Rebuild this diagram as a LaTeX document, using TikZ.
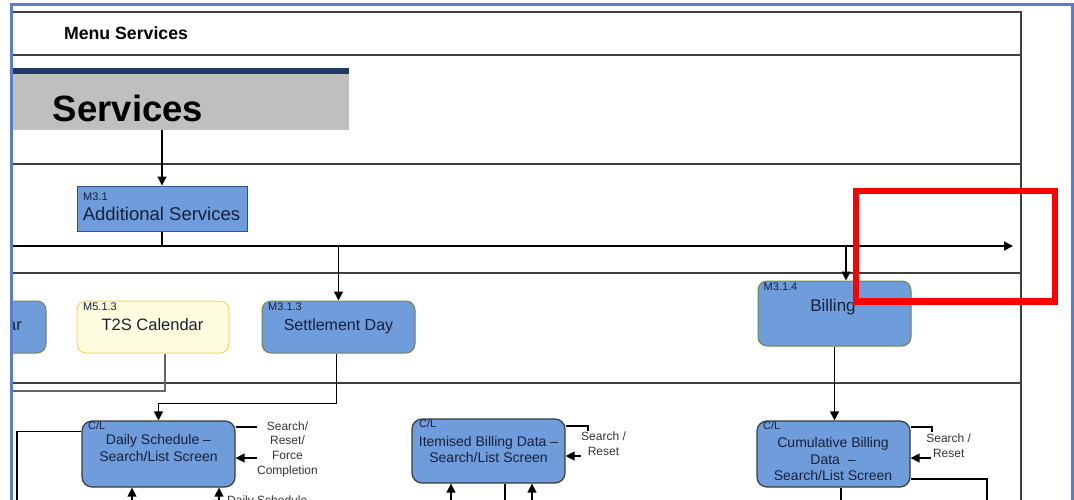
\documentclass[tikz,border=0pt]{standalone}
\usepackage{fontspec}
\setmainfont{Liberation Sans}
\usetikzlibrary{arrows.meta}
\definecolor{frameblue}{HTML}{5B7CC9}
\definecolor{tablegray}{HTML}{3F3F3F}
\definecolor{blockblue}{HTML}{6F9CDB}
\definecolor{blockedge}{HTML}{2F4F8F}
\definecolor{greenedge}{HTML}{6E8A3E}
\definecolor{screenedge}{HTML}{3A3A3A}
\definecolor{calfill}{HTML}{FFFDE0}
\definecolor{caledge}{HTML}{F3D651}
\definecolor{bannergray}{HTML}{BFBFBF}
\definecolor{bannernavy}{HTML}{1F3A62}
\definecolor{labeltext}{HTML}{18213A}
\definecolor{sidegray}{HTML}{333333}
\definecolor{markred}{HTML}{FF0000}
\tikzset{
  tableline/.style={draw=tablegray, line width=1.1},
  flow/.style={-{Triangle[length=9,width=9]}, line width=1.3},
  plainlink/.style={line width=1.2},
  menubox/.style={draw=blockedge, fill=blockblue, line width=1, inner sep=0},
  funcbox/.style={draw=greenedge, fill=blockblue, rounded corners=9, line width=1, inner sep=0},
  calbox/.style={draw=caledge, fill=calfill, rounded corners=9, line width=1, inner sep=0},
  screenbox/.style={draw=screenedge, fill=blockblue, rounded corners=10, line width=1.2, inner sep=0},
  boxtitle/.style={text=labeltext, inner sep=0, anchor=base},
  screentitle/.style={text=labeltext, inner sep=0, align=center, font=\fontsize{14}{16.5}\selectfont},
  idtag/.style={text=labeltext, inner sep=0, anchor=north west, font=\fontsize{11}{12}\selectfont},
  sidenote/.style={text=sidegray, inner sep=0, align=center, font=\fontsize{12}{14.7}\selectfont},
}
\begin{document}
\begin{tikzpicture}[x=1pt,y=-1pt]
    \useasboundingbox (0,0) rectangle (1074,499);
    \clip (0,0) rectangle (1074,499);
    % table rows
    \draw[tableline] (12,12) -- (1021,12) -- (1021,520);
    \foreach \ry in {55,164,273,383}
        \draw[tableline] (12,\ry) -- (1021,\ry);
    \node[font=\bfseries\fontsize{17.7}{20}\selectfont, inner sep=0, anchor=base] (menutitle) at (126,39) {Menu Services};
    % banner
    \node[fill=bannergray, minimum width=337, minimum height=56, inner sep=0] (svcbanner) at (180.5,102) {};
    \fill[bannernavy] (12,68) rectangle (349,74);
    \node[font=\bfseries\fontsize{36.5}{40}\selectfont, inner sep=0, anchor=base] (svctitle) at (128,121) {Services};
    % M3.1
    \node[menubox, minimum width=170, minimum height=45] (addsvc) at (162,208.5) {};
    \node[idtag] (addsvcid) at (83,192.5) {M3.1};
    \node[boxtitle, font=\fontsize{18.5}{20}\selectfont] (addsvctxt) at (161.5,220.7) {Additional Services};
    \draw[flow] (addsvc.north |- svcbanner.south) -- (addsvc.north);
    % main branch line
    \coordinate (mainstart) at (12,246);
    \coordinate (billjoin) at (846,246);
    \coordinate (mainend) at (1013,246);
    \draw[line width=2.2] (addsvc.south) -- (addsvc.south |- mainstart);
    \draw[line width=2.2] (mainstart) -- (billjoin);
    \draw[flow] (billjoin) -- (mainend);
    % second level
    \begin{scope}
        \clip (12,0) rectangle (1074,499);
        \node[funcbox, minimum width=80, minimum height=52] (leftcal) at (6,327) {};
        \node[boxtitle, font=\fontsize{16.5}{20}\selectfont, anchor=base east] (leftcaltxt) at (22,330.7) {ar};
    \end{scope}
    \node[calbox, minimum width=152, minimum height=52] (t2scal) at (153,327) {};
    \node[idtag] (t2scalid) at (83,302.5) {M5.1.3};
    \node[boxtitle, font=\fontsize{16.5}{20}\selectfont] (t2scaltxt) at (152.5,330.7) {T2S Calendar};
    \node[funcbox, minimum width=153, minimum height=52] (settleday) at (338.5,327) {};
    \node[idtag] (settledayid) at (268,302.5) {M3.1.3};
    \node[boxtitle, font=\fontsize{16}{20}\selectfont] (settledaytxt) at (338.5,330.7) {Settlement Day};
    \node[funcbox, minimum width=153, minimum height=65] (billing) at (834.5,313.5) {};
    \node[idtag] (billingid) at (763.5,283) {M3.1.4};
    \node[boxtitle, font=\fontsize{17}{20}\selectfont] (billingtxt) at (833,311) {Billing};
    \draw[flow] (settleday.north |- mainstart) -- (settleday.north);
    \draw[flow] (billjoin) -- (billjoin |- billing.north);
    % screens
    \node[screenbox, minimum width=153, minimum height=66] (daily) at (158.5,454) {};
    \node[idtag] (dailyid) at (88,421.5) {C/L};
    \node[screentitle] (dailytxt) at (158.5,448) {Daily Schedule –\\Search/List Screen};
    \node[screenbox, minimum width=153, minimum height=64] (item) at (488.5,451) {};
    \node[idtag] (itemid) at (419,419.5) {C/L};
    \node[screentitle] (itemtxt) at (488.5,449.5) {Itemised Billing Data –\\Search/List Screen};
    \node[screenbox, minimum width=153, minimum height=66] (cumul) at (833.5,454) {};
    \node[idtag] (cumulid) at (763,421.5) {C/L};
    \node[screentitle] (cumultxt) at (833,459.4) {Cumulative Billing\\Data\ \ –\\Search/List Screen};
    % links between levels
    \coordinate (t2sexit) at (12,391);
    \draw[draw=gray!80!black, line width=1.5] ([xshift=12]t2scal.south) |- (t2sexit);
    \draw[flow] ([xshift=-2]settleday.south) -- ++(0,50) -| (daily.north);
    \draw[flow] (billing.south) -- (billing.south |- cumul.north);
    \coordinate (dailyleft) at (17,510);
    \draw[plainlink] ([yshift=-11]daily.north west) -| (dailyleft);
    % self loops
    \coordinate (dailyloop) at (257,427);
    \coordinate (dailyback) at (257,458);
    \draw[plainlink] (daily.east |- dailyloop) -- (dailyloop);
    \draw[flow] (dailyback) -- (daily.east |- dailyback);
    \node[sidenote] (dailyside) at (287.5,449) {Search/\\Reset/\\Force\\Completion};
    \coordinate (itemloop) at (588,426);
    \coordinate (itemback) at (581,456);
    \draw[plainlink] (item.east |- itemloop) -- (itemloop) -- ++(0,5);
    \draw[flow] (itemback) -- (item.east |- itemback);
    \node[sidenote] (itemside) at (603.5,444) {Search /\\Reset};
    \coordinate (cumulloop) at (932,427);
    \coordinate (cumulback) at (931,458);
    \draw[plainlink] (cumul.east |- cumulloop) -- (cumulloop) -- ++(0,5);
    \draw[flow] (cumulback) -- (cumul.east |- cumulback);
    \node[sidenote] (cumulside) at (948.7,446) {Search /\\Reset};
    % lines leaving at the bottom
    \foreach \bx in {132,219}
        \draw[flow] (\bx,505) -- (daily.south -| \bx,0);
    \foreach \bx in {451,532}
        \draw[flow] (\bx,505) -- (item.south -| \bx,0);
    \draw[plainlink] (item.south -| 505,0) -- (505,510);
    \draw[plainlink] (cumul.south -| 841,0) -- (841,510);
    \coordinate (cumulexit) at (987,510);
    \draw[plainlink] (cumul.east |- 0,479) -| (cumulexit);
    \node[sidenote, anchor=base west] (dailyfoot) at (227,504.6) {Daily Schedule};
    % page frame and highlight
    \draw[frameblue, line width=3] (11,510) -- (11,4) -- (1072,4) -- (1072,510);
    \draw[markred, line width=6.5] (856,191) rectangle (1055,301.5);
\end{tikzpicture}
\end{document}
